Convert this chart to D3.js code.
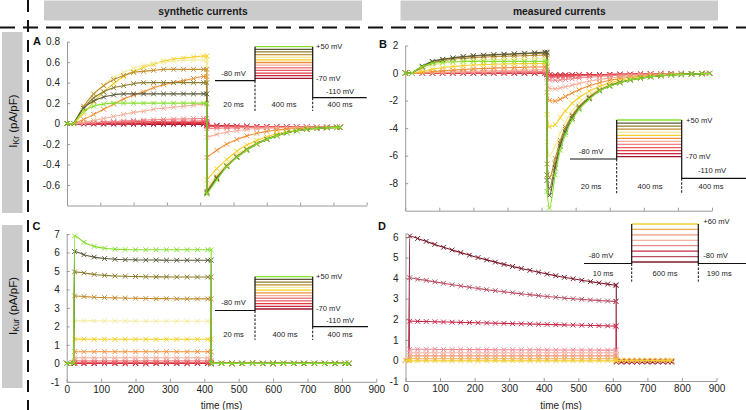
<!DOCTYPE html>
<html>
<head>
<meta charset="utf-8">
<script src="https://cdn.jsdelivr.net/npm/d3@7/dist/d3.min.js"></script>
<style>
html,body{margin:0;padding:0;background:#fff;}
svg{display:block;font-family:"Liberation Sans",Arial,Helvetica,sans-serif;}
</style>
</head>
<body>
<svg id="chart" width="746" height="410"></svg>
<script>
// ================= DATA =================
const voltagesKr = [-70,-60,-50,-40,-30,-20,-10,0,10,20,30,40,50];
const colorsKr = ["#9e1630","#c8243a","#e03a44","#ea5c66","#f08484","#f5ad98","#f09038","#f5cf22","#f3eba4","#c28e30","#8c7c2c","#5a5a3a","#86e030"];
const voltagesKur = [60,40,20,0,-20,-40,-60,-80];
const colorsKur = ["#f2d030","#eeaa5a","#f29a7a","#f4b2a6","#ee8a94","#c8284a","#b85064","#7c1a2c"];
const timeTicks = [0,100,200,300,400,500,600,700,800,900];
const yTicksA = [-0.6,-0.4,-0.2,0,0.2,0.4,0.6,0.8];
const yTicksB = [-8,-6,-4,-2,0,2];
const yTicksC = [-1,0,1,2,3,4,5,6,7];
const yTicksD = [-1,0,1,2,3,4,5,6];

// ---- Panel A: synthetic IKr ----
const timeStepA = [20,50,80,110,140,170,200,230,260,290,320,350,380,410,420];
const timeTailA = [420,450,480,510,540,570,600,630,660,690,720,750,780,810,820];
const currentStepA = [
 [0,-0.005,-0.005,-0.006,-0.006,-0.007,-0.007,-0.007,-0.008,-0.008,-0.008,-0.008,-0.008,-0.008,-0.008],
 [0,0,0,0,0,0,0,0,0,0,0,0,0,0,0],
 [0,0.002,0.004,0.005,0.006,0.007,0.008,0.009,0.009,0.01,0.01,0.01,0.01,0.01,0.01],
 [0,0.004,0.008,0.012,0.015,0.017,0.019,0.02,0.021,0.022,0.023,0.023,0.024,0.024,0.024],
 [0,0.005,0.01,0.015,0.02,0.025,0.03,0.034,0.038,0.041,0.044,0.046,0.048,0.05,0.05],
 [0,0.01,0.03,0.05,0.07,0.09,0.11,0.12,0.14,0.15,0.16,0.17,0.18,0.19,0.19],
 [0,0.04,0.09,0.14,0.19,0.24,0.28,0.31,0.35,0.38,0.40,0.42,0.44,0.46,0.46],
 [0,0.10,0.21,0.31,0.39,0.46,0.51,0.55,0.58,0.61,0.63,0.64,0.65,0.66,0.66],
 [0,0.15,0.28,0.38,0.45,0.50,0.54,0.57,0.59,0.60,0.61,0.62,0.62,0.62,0.62],
 [0,0.17,0.29,0.37,0.43,0.47,0.50,0.51,0.52,0.53,0.53,0.53,0.53,0.53,0.53],
 [0,0.15,0.25,0.31,0.35,0.37,0.39,0.40,0.40,0.40,0.40,0.40,0.40,0.40,0.40],
 [0,0.15,0.22,0.26,0.28,0.29,0.29,0.29,0.29,0.29,0.29,0.29,0.29,0.29,0.29],
 [0,0.12,0.17,0.19,0.20,0.20,0.20,0.20,0.20,0.20,0.20,0.20,0.20,0.20,0.20]
];
const currentTailA = [
 [-0.02,-0.022,-0.024,-0.026,-0.028,-0.029,-0.03,-0.031,-0.032,-0.033,-0.034,-0.035,-0.035,-0.036,-0.036],
 [-0.015,-0.018,-0.021,-0.024,-0.026,-0.028,-0.03,-0.031,-0.032,-0.033,-0.034,-0.035,-0.035,-0.036,-0.036],
 [-0.02,-0.022,-0.024,-0.026,-0.028,-0.029,-0.03,-0.031,-0.032,-0.033,-0.034,-0.035,-0.035,-0.036,-0.036],
 [-0.03,-0.03,-0.031,-0.031,-0.032,-0.032,-0.033,-0.033,-0.034,-0.034,-0.035,-0.035,-0.035,-0.036,-0.036],
 [-0.05,-0.046,-0.043,-0.041,-0.039,-0.038,-0.037,-0.037,-0.036,-0.036,-0.036,-0.036,-0.036,-0.036,-0.036],
 [-0.135,-0.105,-0.085,-0.07,-0.058,-0.05,-0.045,-0.042,-0.04,-0.038,-0.037,-0.036,-0.036,-0.036,-0.036],
 [-0.33,-0.26,-0.20,-0.155,-0.12,-0.095,-0.076,-0.063,-0.054,-0.048,-0.044,-0.041,-0.039,-0.037,-0.036],
 [-0.55,-0.44,-0.35,-0.27,-0.21,-0.165,-0.13,-0.10,-0.08,-0.063,-0.052,-0.045,-0.04,-0.037,-0.036],
 [-0.63,-0.50,-0.39,-0.30,-0.24,-0.185,-0.145,-0.11,-0.085,-0.065,-0.053,-0.045,-0.04,-0.037,-0.036],
 [-0.66,-0.52,-0.41,-0.32,-0.25,-0.195,-0.15,-0.115,-0.09,-0.07,-0.055,-0.047,-0.041,-0.037,-0.036],
 [-0.67,-0.53,-0.415,-0.325,-0.255,-0.198,-0.153,-0.118,-0.09,-0.07,-0.055,-0.047,-0.041,-0.037,-0.036],
 [-0.68,-0.54,-0.42,-0.33,-0.26,-0.20,-0.155,-0.12,-0.09,-0.07,-0.055,-0.047,-0.041,-0.037,-0.036],
 [-0.69,-0.55,-0.42,-0.33,-0.26,-0.20,-0.155,-0.12,-0.09,-0.07,-0.055,-0.047,-0.041,-0.037,-0.036]
];

// ---- Panel B: measured IKr ----
const timeStepB = [20,50,80,110,140,170,200,230,260,290,320,350,380,410,416];
const timeTailB = [416,423,440,455,470,490,510,540,570,600,630,660,690,720,750,780,810,840,870,893];
const currentStepB = [
 [0,-0.01,-0.01,-0.02,-0.02,-0.02,-0.02,-0.02,-0.02,-0.02,-0.02,-0.02,-0.02,-0.02,-0.02],
 [0,0,0,0,0,0,0,0,0,0,0,0,0,0,0],
 [0,0,0,0.01,0.01,0.01,0.01,0.01,0.01,0.01,0.01,0.01,0.01,0.01,0.01],
 [0,0,0.01,0.01,0.02,0.02,0.03,0.03,0.03,0.04,0.04,0.04,0.05,0.05,0.05],
 [0,0.01,0.02,0.03,0.04,0.05,0.06,0.07,0.08,0.09,0.10,0.10,0.11,0.12,0.12],
 [0,0.02,0.04,0.06,0.08,0.10,0.12,0.14,0.16,0.18,0.20,0.22,0.23,0.25,0.25],
 [0,0.04,0.10,0.16,0.21,0.26,0.30,0.33,0.36,0.38,0.40,0.42,0.44,0.45,0.45],
 [0,0.12,0.28,0.40,0.48,0.54,0.58,0.61,0.64,0.66,0.67,0.68,0.69,0.70,0.70],
 [0,0.30,0.55,0.70,0.80,0.87,0.92,0.95,0.98,1.00,1.02,1.03,1.04,1.05,1.05],
 [0,0.40,0.72,0.90,1.00,1.07,1.12,1.16,1.19,1.22,1.24,1.26,1.28,1.30,1.30],
 [0,0.45,0.80,0.97,1.08,1.17,1.23,1.27,1.31,1.34,1.37,1.40,1.42,1.44,1.44],
 [0,0.50,0.85,1.00,1.10,1.20,1.26,1.30,1.34,1.37,1.40,1.44,1.48,1.52,1.52],
 [0,0.45,0.70,0.78,0.82,0.84,0.85,0.85,0.85,0.85,0.85,0.85,0.85,0.85,0.85]
];
const currentTailB = [
 [-0.1,-0.15,-0.15,-0.15,-0.15,-0.14,-0.14,-0.13,-0.12,-0.11,-0.1,-0.09,-0.08,-0.07,-0.06,-0.05,-0.04,-0.03,-0.03,-0.02],
 [-0.1,-0.14,-0.14,-0.14,-0.14,-0.13,-0.13,-0.12,-0.11,-0.1,-0.09,-0.08,-0.07,-0.06,-0.05,-0.04,-0.04,-0.03,-0.03,-0.02],
 [-0.1,-0.15,-0.16,-0.16,-0.15,-0.15,-0.14,-0.13,-0.12,-0.11,-0.1,-0.09,-0.08,-0.07,-0.06,-0.05,-0.04,-0.03,-0.03,-0.02],
 [-0.15,-0.25,-0.26,-0.25,-0.24,-0.22,-0.2,-0.18,-0.16,-0.14,-0.12,-0.1,-0.09,-0.08,-0.07,-0.05,-0.04,-0.03,-0.03,-0.02],
 [-0.3,-0.5,-0.52,-0.5,-0.47,-0.42,-0.37,-0.31,-0.25,-0.2,-0.16,-0.13,-0.1,-0.08,-0.07,-0.05,-0.04,-0.03,-0.03,-0.02],
 [-0.7,-1.1,-1.15,-1.08,-1.0,-0.88,-0.76,-0.6,-0.47,-0.37,-0.29,-0.22,-0.17,-0.13,-0.1,-0.08,-0.06,-0.05,-0.04,-0.03],
 [-1.4,-2.0,-2.05,-1.9,-1.7,-1.45,-1.22,-0.93,-0.7,-0.53,-0.41,-0.31,-0.24,-0.18,-0.14,-0.1,-0.08,-0.06,-0.04,-0.03],
 [-3.0,-3.9,-3.75,-3.25,-2.75,-2.2,-1.78,-1.32,-0.97,-0.72,-0.53,-0.4,-0.3,-0.22,-0.17,-0.12,-0.09,-0.06,-0.04,-0.03],
 [-5.0,-6.0,-5.3,-4.35,-3.55,-2.75,-2.18,-1.57,-1.12,-0.83,-0.61,-0.45,-0.34,-0.25,-0.18,-0.13,-0.09,-0.06,-0.04,-0.03],
 [-6.6,-7.6,-6.2,-4.9,-3.95,-3.05,-2.42,-1.73,-1.23,-0.9,-0.66,-0.49,-0.36,-0.27,-0.19,-0.14,-0.1,-0.07,-0.05,-0.03],
 [-7.4,-8.4,-6.6,-5.1,-4.1,-3.15,-2.5,-1.8,-1.26,-0.92,-0.68,-0.5,-0.37,-0.27,-0.2,-0.14,-0.1,-0.07,-0.05,-0.03],
 [-7.8,-8.9,-6.9,-5.3,-4.3,-3.3,-2.6,-1.85,-1.3,-0.95,-0.7,-0.51,-0.38,-0.28,-0.2,-0.14,-0.1,-0.07,-0.05,-0.03],
 [-8.6,-9.8,-7.4,-5.6,-4.5,-3.4,-2.65,-1.9,-1.3,-0.95,-0.7,-0.5,-0.38,-0.28,-0.2,-0.14,-0.1,-0.07,-0.05,-0.03]
];

// ---- Panel C: synthetic IKur ----
const timeStepC = [20,23,50,80,110,140,170,200,230,260,290,320,350,380,410,420];
const timeTailC = [420,450,480,510,540,570,600,630,660,690,720,750,780,810,820];
const currentStepC = [
 [0,-0.01,-0.01,-0.01,-0.01,-0.01,-0.01,-0.01,-0.01,-0.01,-0.01,-0.01,-0.01,-0.01,-0.01,-0.01],
 [0,0,0,0,0,0,0,0,0,0,0,0,0,0,0,0],
 [0,0.02,0.02,0.02,0.02,0.02,0.02,0.02,0.02,0.02,0.02,0.02,0.02,0.02,0.02,0.02],
 [0,0.06,0.06,0.06,0.06,0.06,0.06,0.06,0.06,0.06,0.06,0.06,0.06,0.06,0.06,0.06],
 [0,0.14,0.14,0.14,0.14,0.14,0.14,0.14,0.14,0.14,0.14,0.14,0.14,0.14,0.14,0.14],
 [0,0.30,0.30,0.30,0.30,0.30,0.30,0.30,0.30,0.30,0.30,0.30,0.30,0.30,0.30,0.30],
 [0,0.63,0.63,0.63,0.63,0.63,0.63,0.63,0.63,0.63,0.63,0.63,0.63,0.63,0.63,0.63],
 [0,1.31,1.31,1.30,1.30,1.30,1.30,1.30,1.30,1.30,1.30,1.30,1.30,1.30,1.30,1.30],
 [0,2.31,2.30,2.30,2.29,2.29,2.29,2.28,2.28,2.28,2.28,2.28,2.28,2.28,2.28,2.28],
 [0,3.65,3.61,3.58,3.56,3.54,3.53,3.52,3.51,3.50,3.50,3.49,3.49,3.49,3.49,3.49],
 [0,4.95,4.89,4.81,4.76,4.73,4.71,4.70,4.69,4.68,4.68,4.67,4.67,4.67,4.67,4.67],
 [0,6.05,5.88,5.75,5.67,5.63,5.61,5.60,5.59,5.59,5.58,5.58,5.58,5.58,5.58,5.58],
 [0,6.90,6.55,6.33,6.23,6.18,6.16,6.15,6.15,6.15,6.15,6.15,6.15,6.15,6.15,6.15]
];
const currentTailC = [0,0,0,0,0,0,0,0,0,0,0,0,0,0,0];

// ---- Panel D: measured IKur ----
const timeStepD = [10,12,35,60,85,110,135,160,185,210,235,260,285,310,335,360,385,410,435,460,485,510,535,560,585,608,610];
const timeTailD = [610,625,640,655,670,685,700,715,730,745,760,770];
const currentStepD = [
 [0,-0.02,-0.02,-0.02,-0.02,-0.02,-0.02,-0.02,-0.02,-0.02,-0.02,-0.02,-0.02,-0.02,-0.02,-0.02,-0.02,-0.02,-0.02,-0.02,-0.02,-0.02,-0.02,-0.02,-0.02,-0.02,-0.02],
 [0,0.08,0.08,0.08,0.08,0.08,0.08,0.08,0.08,0.08,0.08,0.08,0.08,0.08,0.08,0.08,0.08,0.08,0.08,0.08,0.08,0.08,0.08,0.08,0.08,0.08,0.08],
 [0,0.22,0.22,0.22,0.22,0.22,0.22,0.22,0.22,0.22,0.22,0.22,0.22,0.22,0.22,0.22,0.22,0.22,0.22,0.22,0.22,0.22,0.22,0.22,0.22,0.22,0.22],
 [0,0.37,0.37,0.37,0.37,0.37,0.37,0.37,0.37,0.37,0.37,0.37,0.37,0.37,0.37,0.37,0.37,0.37,0.37,0.37,0.37,0.37,0.37,0.37,0.37,0.37,0.37],
 [0,0.54,0.54,0.54,0.54,0.53,0.53,0.53,0.53,0.53,0.53,0.52,0.52,0.52,0.52,0.52,0.52,0.51,0.51,0.51,0.51,0.51,0.51,0.50,0.50,0.50,0.50],
 [0,1.91,1.90,1.89,1.88,1.87,1.86,1.85,1.84,1.83,1.82,1.81,1.80,1.79,1.78,1.77,1.76,1.75,1.74,1.73,1.72,1.71,1.70,1.69,1.68,1.67,1.67],
 [0,4.02,3.95,3.89,3.82,3.75,3.68,3.62,3.56,3.50,3.44,3.39,3.34,3.29,3.24,3.20,3.15,3.11,3.07,3.03,3.00,2.97,2.94,2.91,2.89,2.87,2.87],
 [0,6.05,5.93,5.79,5.64,5.50,5.37,5.24,5.12,5.00,4.89,4.78,4.67,4.57,4.47,4.38,4.29,4.20,4.12,4.04,3.97,3.90,3.83,3.77,3.71,3.66,3.66]
];
const currentTailD = [
 [0,0,0,0,0,0,0,0,0,0,0,0],
 [0.01,0.01,0.01,0.01,0.01,0.01,0.01,0.01,0.01,0.01,0.01,0.01],
 [0,0,0,0,0,0,0,0,0,0,0,0],
 [0,0,0,0,0,0,0,0,0,0,0,0],
 [-0.01,-0.01,-0.01,-0.01,-0.01,-0.01,-0.01,-0.01,-0.01,-0.01,-0.01,-0.01],
 [-0.03,-0.03,-0.03,-0.03,-0.03,-0.03,-0.03,-0.03,-0.03,-0.03,-0.03,-0.03],
 [-0.05,-0.05,-0.05,-0.05,-0.05,-0.05,-0.05,-0.05,-0.05,-0.05,-0.05,-0.05],
 [-0.08,-0.08,-0.08,-0.08,-0.08,-0.08,-0.08,-0.08,-0.08,-0.08,-0.08,-0.08]
];

// ================= DRAWING =================
const svg = d3.select("#chart");
const FONT = '"Liberation Sans",Arial,Helvetica,sans-serif';

// header boxes
svg.append("rect").attr("x",44).attr("y",0.5).attr("width",318).attr("height",20).attr("fill","#cbcbcb");
svg.append("rect").attr("x",400.5).attr("y",0.5).attr("width",317.5).attr("height",20).attr("fill","#cbcbcb");
svg.append("text").attr("x",203).attr("y",14.5).attr("text-anchor","middle").attr("font-size",10.3).attr("font-weight","bold").attr("fill","#1a1a1a").text("synthetic currents");
svg.append("text").attr("x",559.3).attr("y",14.5).attr("text-anchor","middle").attr("font-size",10.3).attr("font-weight","bold").attr("fill","#1a1a1a").text("measured currents");

// side boxes
svg.append("rect").attr("x",2).attr("y",32).attr("width",20.5).attr("height",181).attr("fill","#cbcbcb");
svg.append("rect").attr("x",2).attr("y",225).attr("width",20.5).attr("height",163).attr("fill","#cbcbcb");

function yLabel(cx, cy, sub) {
  const t = svg.append("text").attr("transform",`translate(${cx},${cy}) rotate(-90)`)
    .attr("text-anchor","middle").attr("font-size",11.5).attr("fill","#111");
  t.append("tspan").text("I");
  t.append("tspan").attr("font-size",8.5).attr("dy",2.8).text(sub);
  t.append("tspan").attr("dy",-2.8).text(" (pA/pF)");
}
yLabel(16.5, 121, "Kr");
yLabel(16.5, 306, "Kur");

// dashed separators
svg.append("line").attr("x1",0).attr("x2",746).attr("y1",27.5).attr("y2",27.5)
  .attr("stroke","#111").attr("stroke-width",2).attr("stroke-dasharray","15,8");
svg.append("line").attr("x1",28).attr("x2",28).attr("y1",0).attr("y2",410)
  .attr("stroke","#111").attr("stroke-width",2).attr("stroke-dasharray","12,8");

// panel letters
[["A",37,45],["B",383,48],["C",36.5,230],["D",382,230]].forEach(([l,x,y]) => {
  svg.append("text").attr("x",x).attr("y",y).attr("text-anchor","middle").attr("font-size",11)
    .attr("font-weight","bold").attr("fill","#111").text(l);
});

const fmtY = d => d === 0 ? "0" : String(d);

function drawPanel(p) {
  const x = d3.scaleLinear().domain([0,900]).range(p.xr);
  const y = d3.scaleLinear().domain(p.yd).range(p.yr);
  const g = svg.append("g");
  const gx = g.append("g").attr("transform",`translate(0,${p.yr[0]})`)
    .call(d3.axisBottom(x).tickValues(timeTicks).tickSizeInner(-3).tickSizeOuter(0).tickPadding(4)
      .tickFormat(p.xLabels ? (d => String(d)) : (() => "")));
  const gy = g.append("g").attr("transform",`translate(${p.xr[0]},0)`)
    .call(d3.axisLeft(y).tickValues(p.yTicks).tickSizeInner(-3).tickSizeOuter(0).tickPadding(7).tickFormat(fmtY));
  [gx,gy].forEach(a => {
    a.select(".domain").attr("stroke","#9a9a9a");
    a.selectAll(".tick line").attr("stroke","#9a9a9a");
    a.selectAll(".tick text").attr("fill","#222").attr("font-size",10).attr("font-family",FONT);
  });
  if (p.xLabels) {
    g.append("text").attr("x",(p.xr[0]+p.xr[1])/2).attr("y",408.5).attr("text-anchor","middle")
      .attr("font-size",10).attr("fill","#222").text("time (ms)");
  }
  const curve = d3.line().x(d => x(d[0])).y(d => y(d[1])).curve(d3.curveMonotoneX);
  const straight = d3.line().x(d => x(d[0])).y(d => y(d[1]));
  p.order.forEach(i => {
    const col = p.colors[i];
    const tg = g.append("g").attr("fill","none").attr("stroke",col).attr("stroke-width",1.1);
    const pre = [[0,0],[p.tStep[0],0]];
    const step = p.tStep.map((t,k) => [t, p.step[i][k]]);
    const tailVals = p.tail[i];
    const tail = p.tTail.map((t,k) => [t, tailVals[k]]);
    tg.append("path").attr("d", straight(pre));
    tg.append("path").attr("d", curve(step));
    tg.append("path").attr("d", straight([step[step.length-1], tail[0]]));
    tg.append("path").attr("d", curve(tail));
    const pts = [pre[0]].concat(step, tail);
    tg.selectAll("path.mk").data(pts).join("path").attr("class","mk")
      .attr("d", d => `M${x(d[0])-2.4},${y(d[1])-2.4}l4.8,4.8m0,-4.8l-4.8,4.8`)
      .attr("stroke-width",1);
  });
}

const orderKr = [0,1,2,3,4,5,6,7,8,9,10,11,12];
drawPanel({xr:[67,366.7], yd:[-0.8,0.8], yr:[205.5,41.7], yTicks:yTicksA, xLabels:false,
  tStep:timeStepA, tTail:timeTailA, step:currentStepA, tail:currentTailA, colors:colorsKr, order:orderKr});
drawPanel({xr:[405.2,712], yd:[-10,2], yr:[210.7,45.5], yTicks:yTicksB, xLabels:false,
  tStep:timeStepB, tTail:timeTailB, step:currentStepB, tail:currentTailB, colors:colorsKr, order:orderKr});
drawPanel({xr:[66.7,376.3], yd:[-1,7], yr:[381.8,234], yTicks:yTicksC, xLabels:true,
  tStep:timeStepC, tTail:timeTailC, step:currentStepC, tail:voltagesKr.map(() => currentTailC), colors:colorsKr, order:orderKr});
drawPanel({xr:[405.5,716.5], yd:[-1,6.2], yr:[381,232.9], yTicks:yTicksD, xLabels:true,
  tStep:timeStepD, tTail:timeTailD, step:currentStepD, tail:currentTailD, colors:colorsKur, order:[7,6,5,4,3,2,1,0]});

// ---- voltage protocol insets ----
function drawProtocol(c) {
  const g = svg.append("g");
  const yv = d3.scaleLinear().domain(c.vDom).range([c.yBot, c.yTop]);
  c.volts.forEach((v,i) => {
    g.append("line").attr("x1",c.x1).attr("x2",c.x2).attr("y1",yv(v)).attr("y2",yv(v))
      .attr("stroke",c.colors[i]).attr("stroke-width",1.3);
  });
  g.append("path").attr("d",`M${c.x0},${c.yHold}H${c.x1}V${c.yTop}M${c.x2},${c.yTop}V${c.yTail}H${c.x3}`)
    .attr("stroke","#111").attr("fill","none").attr("stroke-width",1.2);
  g.append("path").attr("d",`M${c.x1},${c.yHold}V${c.yDash}M${c.x2},${c.yTail}V${c.yDash}`)
    .attr("stroke","#111").attr("fill","none").attr("stroke-width",1).attr("stroke-dasharray","2.5,1.5");
  c.labels.forEach(([txt,x,y,anchor]) => {
    g.append("text").attr("x",x).attr("y",y).attr("text-anchor",anchor).attr("dominant-baseline","central")
      .attr("font-size",7.6).attr("fill","#222").text(txt);
  });
}

drawProtocol({x0:215,x1:255,x2:312.7,x3:366.7,yTop:46.7,yBot:78.3,yHold:80.7,yTail:97.7,yDash:111,
  vDom:[-70,50], volts:voltagesKr, colors:colorsKr,
  labels:[["-80 mV",233.5,73.3,"middle"],["+50 mV",316,46,"start"],["-70 mV",316,78.5,"start"],["-110 mV",326,91,"start"],
          ["20 ms",233.5,104,"middle"],["400 ms",284,104,"middle"],["400 ms",340,104,"middle"]]});
drawProtocol({x0:570,x1:616.7,x2:681.7,x3:746,yTop:120,yBot:156.7,yHold:159,yTail:178.3,yDash:193.3,
  vDom:[-70,50], volts:voltagesKr, colors:colorsKr,
  labels:[["-80 mV",591,151,"middle"],["+50 mV",686,120,"start"],["-70 mV",686,156,"start"],["-110 mV",698,170,"start"],
          ["20 ms",591,186,"middle"],["400 ms",650,186,"middle"],["400 ms",711,186,"middle"]]});
drawProtocol({x0:215,x1:255,x2:312.7,x3:368,yTop:276.7,yBot:309,yHold:310.5,yTail:326.7,yDash:340,
  vDom:[-70,50], volts:voltagesKr, colors:colorsKr,
  labels:[["-80 mV",233.5,302.7,"middle"],["+50 mV",316,276,"start"],["-70 mV",316,308.3,"start"],["-110 mV",326,320,"start"],
          ["20 ms",233.5,334,"middle"],["400 ms",285,334,"middle"],["400 ms",340,334,"middle"]]});
drawProtocol({x0:584,x1:631.7,x2:698.3,x3:746,yTop:224,yBot:262,yHold:263.5,yTail:263.5,yDash:281.7,
  vDom:[-80,60], volts:voltagesKur, colors:colorsKur,
  labels:[["-80 mV",601,255,"middle"],["+60 mV",703.3,221.7,"start"],["-80 mV",703.3,255,"start"],
          ["10 ms",603,273.3,"middle"],["600 ms",665,273.3,"middle"],["190 ms",719.3,273.3,"middle"]]});
</script>
</body>
</html>
